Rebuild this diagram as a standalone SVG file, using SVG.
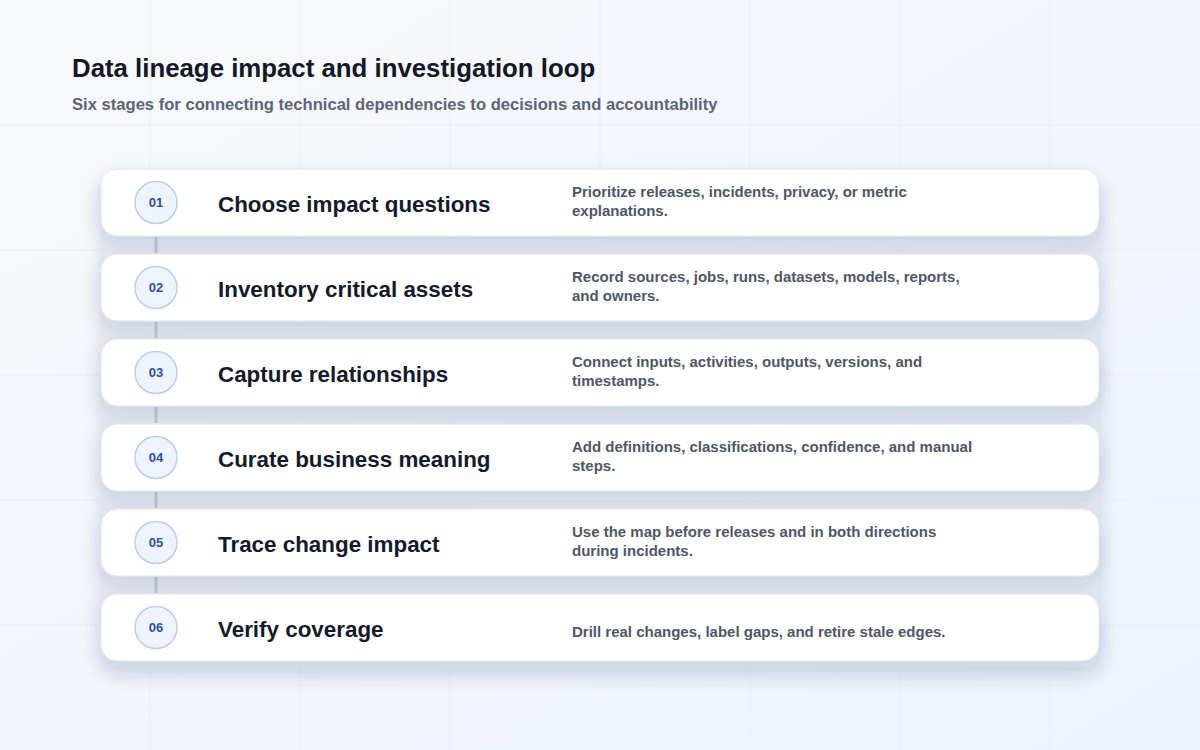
<svg xmlns="http://www.w3.org/2000/svg" width="1200" height="750" viewBox="0 0 1200 750">
<defs>
<linearGradient id="bg" x1="0" y1="0" x2="1" y2="1">
<stop offset="0" stop-color="#f8f9fc"/>
<stop offset="1" stop-color="#edf2fc"/>
</linearGradient>
<filter id="sh" x="-10%" y="-60%" width="120%" height="240%">
<feDropShadow dx="0" dy="8" stdDeviation="10" flood-color="#1e2a50" flood-opacity="0.13"/>
</filter>
<style>
.title{font-family:"Liberation Sans",Arial,sans-serif;font-weight:700;font-size:25.8px;fill:#121826}
.sub{font-family:"Liberation Sans",Arial,sans-serif;font-weight:700;font-size:16.6px;fill:#5b6577}
.card{fill:#ffffff;stroke:#dfe4ee;stroke-width:1}
.circ{fill:#eef3fd;stroke:#bccdec;stroke-width:1.5}
.num{font-family:"Liberation Sans",Arial,sans-serif;font-weight:700;font-size:13px;fill:#2f4f9a;text-anchor:middle}
.head{font-family:"Liberation Sans",Arial,sans-serif;font-weight:700;font-size:22.4px;fill:#131a2b}
.desc{font-family:"Liberation Sans",Arial,sans-serif;font-weight:700;font-size:15px;fill:#4e5768}
.grid{stroke:#ebeef5;stroke-width:1}
.conn{stroke:#c3c7cf;stroke-width:3}
</style>
</defs>
<rect width="1200" height="750" fill="url(#bg)"/>
<g id="grid">
<line class="grid" x1="150" y1="0" x2="150" y2="750"/>
<line class="grid" x1="300" y1="0" x2="300" y2="750"/>
<line class="grid" x1="450" y1="0" x2="450" y2="750"/>
<line class="grid" x1="600" y1="0" x2="600" y2="750"/>
<line class="grid" x1="750" y1="0" x2="750" y2="750"/>
<line class="grid" x1="900" y1="0" x2="900" y2="750"/>
<line class="grid" x1="1050" y1="0" x2="1050" y2="750"/>
<line class="grid" x1="0" y1="125" x2="1200" y2="125"/>
<line class="grid" x1="0" y1="250" x2="1200" y2="250"/>
<line class="grid" x1="0" y1="375" x2="1200" y2="375"/>
<line class="grid" x1="0" y1="500" x2="1200" y2="500"/>
<line class="grid" x1="0" y1="625" x2="1200" y2="625"/>
</g>
<text class="title" x="72" y="77">Data lineage impact and investigation loop</text>
<text class="sub" x="72" y="110">Six stages for connecting technical dependencies to decisions and accountability</text>
<rect x="101" y="175" width="998" height="492" rx="16" fill="#e3e7f0" opacity="0.8" filter="url(#sh)"/>
<g id="connectors">
<line class="conn" x1="156" y1="237" x2="156" y2="253"/>
<line class="conn" x1="156" y1="322" x2="156" y2="338"/>
<line class="conn" x1="156" y1="407" x2="156" y2="423"/>
<line class="conn" x1="156" y1="492" x2="156" y2="508"/>
<line class="conn" x1="156" y1="577" x2="156" y2="593"/>
</g>
<g id="stage1">
<rect class="card" x="101" y="169" width="998" height="67" rx="16" filter="url(#sh)"/>
<circle class="circ" cx="156" cy="202.5" r="21"/>
<text class="num" x="156" y="207">01</text>
<text class="head" x="218" y="212">Choose impact questions</text>
<text class="desc" x="572" y="197">Prioritize releases, incidents, privacy, or metric</text>
<text class="desc" x="572" y="216">explanations.</text>
</g>
<g id="stage2">
<rect class="card" x="101" y="254" width="998" height="67" rx="16" filter="url(#sh)"/>
<circle class="circ" cx="156" cy="287.5" r="21"/>
<text class="num" x="156" y="292">02</text>
<text class="head" x="218" y="297">Inventory critical assets</text>
<text class="desc" x="572" y="282">Record sources, jobs, runs, datasets, models, reports,</text>
<text class="desc" x="572" y="301">and owners.</text>
</g>
<g id="stage3">
<rect class="card" x="101" y="339" width="998" height="67" rx="16" filter="url(#sh)"/>
<circle class="circ" cx="156" cy="372.5" r="21"/>
<text class="num" x="156" y="377">03</text>
<text class="head" x="218" y="382">Capture relationships</text>
<text class="desc" x="572" y="367">Connect inputs, activities, outputs, versions, and</text>
<text class="desc" x="572" y="386">timestamps.</text>
</g>
<g id="stage4">
<rect class="card" x="101" y="424" width="998" height="67" rx="16" filter="url(#sh)"/>
<circle class="circ" cx="156" cy="457.5" r="21"/>
<text class="num" x="156" y="462">04</text>
<text class="head" x="218" y="467">Curate business meaning</text>
<text class="desc" x="572" y="452">Add definitions, classifications, confidence, and manual</text>
<text class="desc" x="572" y="471">steps.</text>
</g>
<g id="stage5">
<rect class="card" x="101" y="509" width="998" height="67" rx="16" filter="url(#sh)"/>
<circle class="circ" cx="156" cy="542.5" r="21"/>
<text class="num" x="156" y="547">05</text>
<text class="head" x="218" y="552">Trace change impact</text>
<text class="desc" x="572" y="537">Use the map before releases and in both directions</text>
<text class="desc" x="572" y="556">during incidents.</text>
</g>
<g id="stage6">
<rect class="card" x="101" y="594" width="998" height="67" rx="16" filter="url(#sh)"/>
<circle class="circ" cx="156" cy="627.5" r="21"/>
<text class="num" x="156" y="632">06</text>
<text class="head" x="218" y="637">Verify coverage</text>
<text class="desc" x="572" y="637">Drill real changes, label gaps, and retire stale edges.</text>
</g>
</svg>
